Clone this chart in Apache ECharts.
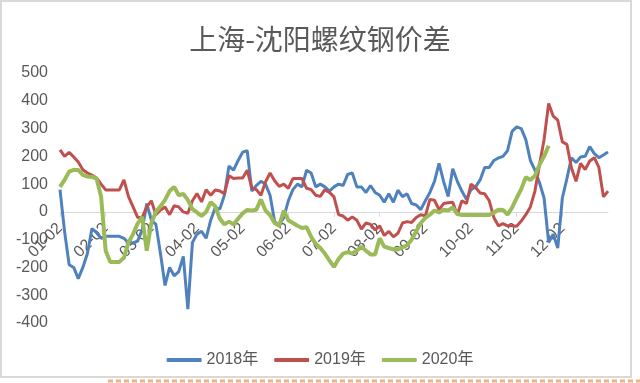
<!DOCTYPE html>
<html>
<head>
<meta charset="utf-8">
<script src="https://cdn.jsdelivr.net/npm/echarts@6/dist/echarts.min.js"></script>
<style>
html,body{margin:0;padding:0;background:#fff;}
#c{width:640px;height:383px;}
</style>
</head>
<body>
<div id="c"></div>
<script>
const title = '上海-沈阳螺纹钢价差';
const months = ['01','02','03','04','05','06','07','08','09','10','11','12'];
const days = ['02','05','08','11','14','17','20','23','26','29'];
const lastDay = '12-31';
const seriesNames = ['2018年','2019年','2020年'];
const yTicks = [-400,-300,-200,-100,0,100,200,300,400,500];

const v2018 = [80,-70,-190,-200,-240,-200,-150,-60,-75,-95,
  -88,-88,-88,-88,-95,-112,-112,-105,-65,30,
  -30,-45,-150,-265,-200,-230,-215,-160,-350,-110,
  -80,-70,-95,-30,15,10,60,165,150,185,
  215,220,75,95,110,100,60,-35,-48,-20,
  40,80,100,90,150,140,90,100,90,75,
  90,100,95,135,140,90,90,70,95,70,
  60,35,65,35,78,55,65,30,25,8,
  40,70,110,175,110,55,155,110,75,45,
  80,90,115,160,160,185,194,200,220,290,
  306,300,260,185,150,105,50,-110,-80,-130,
  50,120,195,178,198,200,235,210,195,205,216];

const v2019 = [223,200,214,198,180,152,140,132,122,100,
  79,79,79,79,115,55,18,-20,-20,18,
  40,-10,7,18,-10,22,18,0,-5,40,
  66,36,80,60,79,75,65,130,120,122,
  122,150,86,80,60,108,140,112,92,100,
  85,120,120,120,85,80,60,56,80,70,
  54,-10,-15,-30,-18,-30,-62,-40,-45,-65,
  -50,-85,-70,-90,-77,-40,-35,-38,-20,-10,
  -15,45,42,8,30,33,35,-10,40,30,
  100,88,68,65,40,-20,-50,-42,-50,-50,
  -52,-33,-10,18,75,170,260,390,345,330,
  252,243,158,110,175,152,183,195,160,54,75];

const v2020 = [90,115,145,151,151,133,127,126,120,55,
  -140,-180,-180,-180,-165,-110,-80,-42,-18,-140,
  -40,0,20,43,75,90,60,65,43,10,
  -2,-15,0,35,20,-25,-45,-35,-45,-25,
  -5,7,5,8,45,5,-12,-40,-50,5,
  -30,-40,-50,-58,-55,-90,-115,-130,-150,-175,
  -198,-170,-150,-145,-150,-140,-125,-140,-153,-153,
  -95,-125,-130,-135,-135,-128,-120,-100,-70,-40,
  -22,-10,5,-2,8,5,16,-8,-11,-11,
  -11,-11,-11,-11,-11,-3,8,7,-10,15,
  50,82,125,115,130,170,200,238];

const categories = [];
months.forEach(m => days.forEach(d => categories.push(m + '-' + d)));
categories.push(lastDay);

const colors = ['#4F81BD','#C0504D','#9BBB59'];
const gridTop = 73, gridBottom = 60, chartH = 383;
const plotH = chartH - gridTop - gridBottom;
const yMin = yTicks[0], yMax = yTicks[yTicks.length-1];
const zeroOffset = -plotH * (0 - yMin) / (yMax - yMin);

const chart = echarts.init(document.getElementById('c'), null, {renderer:'canvas'});
chart.setOption({
  animation:false,
  backgroundColor:'#fff',
  title:{text:title,left:'center',top:20,textStyle:{fontSize:28,fontWeight:'normal',color:'#595959',fontFamily:'Noto Sans CJK SC'}},
  legend:{bottom:10,left:'center',itemWidth:35,itemHeight:4,itemGap:16,icon:'roundRect',
    textStyle:{fontSize:16,color:'#595959',fontFamily:'Liberation Sans, Noto Sans CJK SC'},
    data:seriesNames},
  grid:{left:60,right:32,top:gridTop,bottom:gridBottom},
  xAxis:{type:'category',data:categories,boundaryGap:false,position:'bottom',offset:zeroOffset,
    axisLine:{onZero:false,lineStyle:{color:'#d9d9d9',width:1}},
    axisTick:{show:true,interval:9,length:5,inside:false,lineStyle:{color:'#d9d9d9'}},
    axisLabel:{interval:9,rotate:45,color:'#595959',fontSize:16,margin:14,fontFamily:'Liberation Sans',
      showMaxLabel:false},
    splitLine:{show:false}},
  yAxis:{type:'value',min:yMin,max:yMax,interval:100,
    axisLine:{show:false},axisTick:{show:false},splitLine:{show:false},
    axisLabel:{color:'#595959',fontSize:16,margin:12,fontFamily:'Liberation Sans'}},
  graphic:[
    {type:'rect',shape:{x:1,y:1,width:630,height:376},style:{fill:'none',stroke:'#d9d9d9',lineWidth:2},silent:true},
    {type:'line',shape:{x1:108,y1:381,x2:640,y2:381},style:{stroke:'#f4b183',lineWidth:3,lineDash:[5,3]},silent:true}
  ],
  series:[
    {name:seriesNames[0],type:'line',data:v2018,showSymbol:false,symbol:'none',lineStyle:{width:3,color:colors[0]},itemStyle:{color:colors[0]}},
    {name:seriesNames[1],type:'line',data:v2019,showSymbol:false,symbol:'none',lineStyle:{width:3,color:colors[1]},itemStyle:{color:colors[1]}},
    {name:seriesNames[2],type:'line',data:v2020,showSymbol:false,symbol:'none',lineStyle:{width:4,color:colors[2]},itemStyle:{color:colors[2]}}
  ]
});
</script>
</body>
</html>
